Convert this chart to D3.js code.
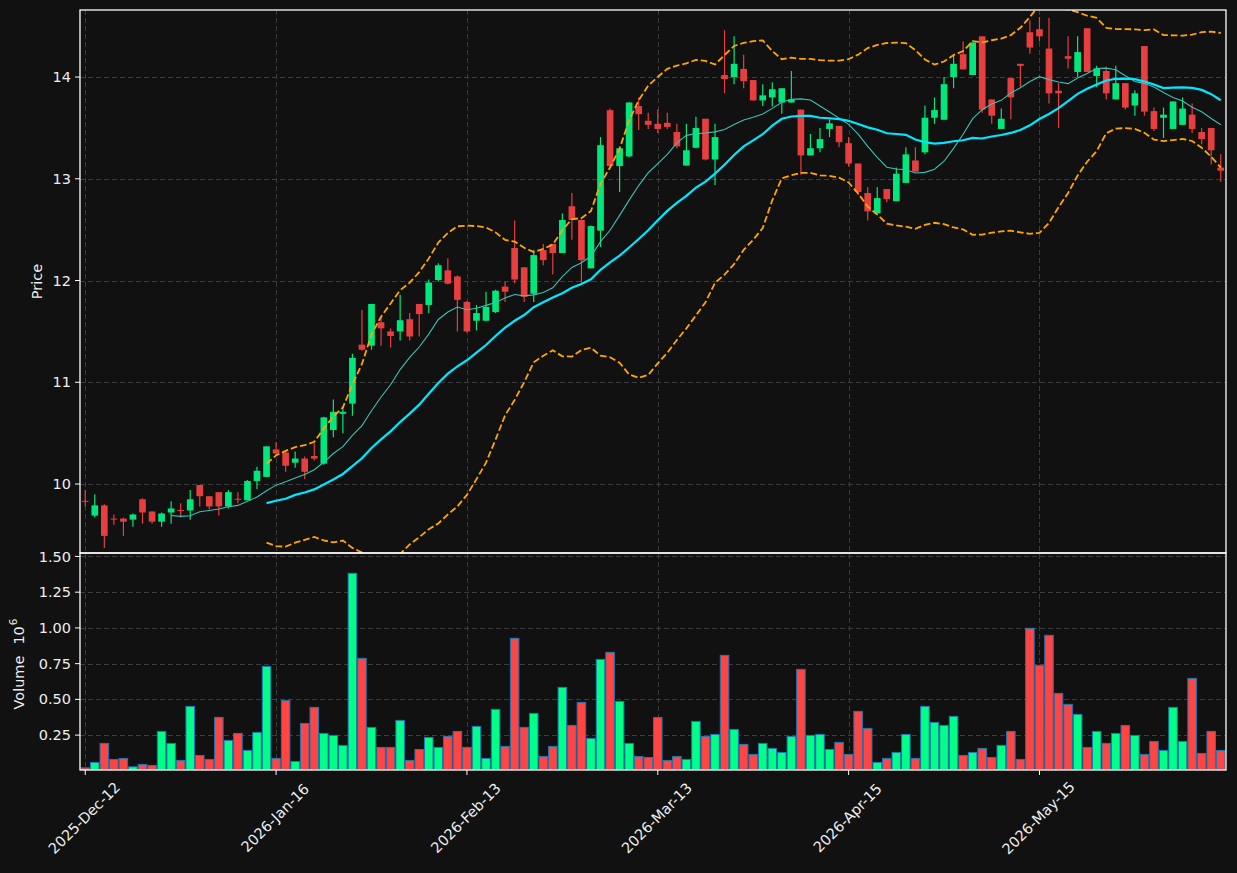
<!DOCTYPE html>
<html>
<head>
<meta charset="utf-8">
<script src="https://cdn.jsdelivr.net/npm/d3@7"></script>
<style>
  body { margin: 0; background: #111111; }
  svg { display: block; }
  text { font-family: "DejaVu Sans", sans-serif; fill: #eeeeee; }
</style>
</head>
<body>
<div id="chart"></div>
<script>
// daily OHLC, one entry per trading session (index 0..119)
const opens = [9.835,9.69,9.79,9.66,9.66,9.65,9.85,9.73,9.63,9.72,
  9.745,9.74,9.99,9.88,9.92,9.78,9.855,9.84,10.03,10.07,
  10.34,10.31,10.21,10.25,10.275,10.20,10.53,10.69,10.79,11.37,
  11.36,11.59,11.50,11.50,11.62,11.77,11.76,12.005,12.10,12.04,
  11.79,11.605,11.605,11.69,11.94,12.32,12.13,11.87,12.30,12.36,
  12.27,12.73,12.595,12.12,12.49,13.675,13.125,13.22,13.715,13.57,
  13.54,13.55,13.46,13.13,13.305,13.59,13.19,14.02,14.00,14.08,
  13.97,13.77,13.80,13.75,13.75,13.68,13.23,13.30,13.49,13.52,
  13.35,13.15,12.86,12.66,12.90,12.78,12.96,13.18,13.26,13.60,
  13.58,14.00,14.225,14.02,14.40,13.78,13.49,13.99,14.13,14.44,
  14.47,14.28,13.865,14.205,14.05,14.48,14.01,14.06,13.78,13.94,
  13.72,14.305,13.665,13.60,13.49,13.53,13.63,13.46,13.50,13.11];
const highs = [9.94,9.90,9.80,9.70,9.67,9.71,9.86,9.73,9.72,9.83,
  9.81,9.94,9.99,9.88,9.92,9.94,9.92,10.04,10.17,10.37,
  10.41,10.32,10.32,10.27,10.40,10.66,10.83,10.76,11.28,11.71,
  11.77,11.65,11.53,11.86,11.68,11.77,12.01,12.17,12.22,12.05,
  11.80,11.76,11.89,11.91,11.99,12.59,12.13,12.30,12.36,12.36,
  12.66,12.86,12.60,12.54,13.41,13.69,13.315,13.75,13.80,13.65,
  13.68,13.65,13.54,13.54,13.61,13.59,13.54,14.46,14.40,14.22,
  13.97,13.93,13.95,13.89,14.06,13.68,13.44,13.50,13.585,13.52,
  13.41,13.15,12.92,12.92,12.90,13.11,13.31,13.31,13.72,13.80,
  14.00,14.22,14.35,14.34,14.40,13.78,13.69,13.99,14.13,14.555,
  14.59,14.58,13.94,14.40,14.40,14.48,14.11,14.10,14.11,13.94,
  13.87,14.305,13.70,13.70,13.76,13.80,13.74,13.50,13.50,13.24];
const lows = [9.78,9.67,9.37,9.60,9.49,9.58,9.61,9.61,9.58,9.61,
  9.67,9.65,9.78,9.75,9.69,9.76,9.81,9.84,9.95,10.07,
  10.28,10.12,10.16,10.05,10.23,10.19,10.46,10.50,10.67,11.31,
  11.32,11.36,11.34,11.41,11.41,11.45,11.68,11.99,11.96,11.50,
  11.49,11.51,11.60,11.68,11.79,11.97,11.79,11.79,12.15,12.06,
  12.27,12.40,11.98,12.12,12.33,13.12,12.87,13.21,13.48,13.49,
  13.45,13.49,13.30,13.13,13.30,13.18,12.94,13.84,13.93,13.89,
  13.77,13.715,13.71,13.64,13.75,13.04,13.23,13.26,13.41,13.31,
  13.12,12.84,12.59,12.66,12.77,12.78,12.96,13.07,13.24,13.54,
  13.58,13.89,14.075,14.02,13.65,13.54,13.49,13.585,13.905,14.23,
  14.35,13.74,13.50,14.085,14.00,14.05,13.90,13.78,13.78,13.68,
  13.62,13.62,13.47,13.40,13.49,13.53,13.45,13.34,13.14,12.97];
const closes = [9.825,9.79,9.49,9.65,9.63,9.70,9.72,9.63,9.71,9.76,
  9.74,9.85,9.88,9.78,9.78,9.92,9.85,10.03,10.13,10.37,
  10.30,10.18,10.25,10.12,10.25,10.655,10.71,10.71,11.24,11.32,
  11.77,11.53,11.455,11.61,11.45,11.67,11.98,12.15,11.97,11.81,
  11.50,11.68,11.74,11.90,11.89,12.01,11.84,12.25,12.20,12.27,
  12.595,12.595,12.20,12.535,13.33,13.125,13.30,13.75,13.635,13.53,
  13.49,13.51,13.32,13.28,13.50,13.19,13.41,13.98,14.13,13.96,
  13.77,13.82,13.88,13.89,13.78,13.23,13.30,13.39,13.545,13.36,
  13.15,12.87,12.68,12.81,12.80,13.05,13.24,13.07,13.60,13.675,
  13.93,14.13,14.075,14.34,13.68,13.62,13.59,13.80,14.11,14.29,
  14.40,13.84,13.84,14.18,14.245,14.05,14.085,13.84,13.94,13.70,
  13.84,13.66,13.49,13.63,13.76,13.69,13.49,13.39,13.28,13.08];
// volume in millions (axis shows 10^6)
const volumes = [0.021,0.059,0.192,0.080,0.087,0.028,0.045,0.038,0.276,0.192,
  0.073,0.451,0.108,0.080,0.374,0.213,0.262,0.143,0.269,0.731,
  0.087,0.493,0.066,0.332,0.444,0.262,0.248,0.178,1.382,0.787,
  0.304,0.164,0.164,0.353,0.073,0.150,0.234,0.164,0.241,0.276,
  0.164,0.311,0.087,0.430,0.171,0.927,0.304,0.402,0.101,0.171,
  0.584,0.318,0.479,0.227,0.780,0.829,0.486,0.192,0.101,0.094,
  0.374,0.073,0.101,0.080,0.346,0.241,0.255,0.808,0.290,0.185,
  0.115,0.192,0.157,0.129,0.241,0.710,0.248,0.255,0.150,0.199,
  0.115,0.416,0.297,0.059,0.087,0.129,0.255,0.087,0.451,0.339,
  0.318,0.381,0.108,0.129,0.157,0.094,0.178,0.276,0.080,0.997,
  0.738,0.948,0.542,0.465,0.395,0.164,0.276,0.192,0.262,0.318,
  0.248,0.115,0.206,0.143,0.444,0.206,0.647,0.122,0.276,0.143];

const tickIdx = [0, 20, 40, 60, 80, 100];
const tickLabels = ["2025-Dec-12", "2026-Jan-16", "2026-Feb-13", "2026-Mar-13", "2026-Apr-15", "2026-May-15"];
const priceTicks = [10, 11, 12, 13, 14];
const volTicks = [0.25, 0.5, 0.75, 1.0, 1.25, 1.5];

const W = 1237, H = 873;
const pLeft = 80, pRight = 1226, pTop = 10, pMid = 553, pBottom = 770;
const upColor = "#00ff88", downColor = "#ff4444";

// rolling helpers for the moving averages / bands
function rolling(arr, n, fn) {
  return arr.map((d, i) => i < n - 1 ? null : fn(arr.slice(i - n + 1, i + 1)));
}
const ma10 = rolling(closes, 10, d3.mean);
const ma20 = rolling(closes, 20, d3.mean);
const sd20 = rolling(closes, 20, d3.deviation);
const bbUpper = ma20.map((m, i) => m == null ? null : m + 2 * sd20[i]);
const bbLower = ma20.map((m, i) => m == null ? null : m - 2 * sd20[i]);

const n = closes.length;
const x = d3.scaleLinear().domain([-0.55, n - 0.45]).range([pLeft, pRight]);
const y = d3.scaleLinear().domain([9.322, 14.659]).range([pMid, pTop]);
const yv = d3.scaleLinear().domain([0.006, 1.524]).range([pBottom, pMid]);
const step = x(1) - x(0);

const svg = d3.select("#chart").append("svg")
  .attr("width", W).attr("height", H)
  .style("background", "#111111");

const defs = svg.append("defs");
defs.append("clipPath").attr("id", "clipPrice")
  .append("rect").attr("x", pLeft).attr("y", pTop).attr("width", pRight - pLeft).attr("height", pMid - pTop);
defs.append("clipPath").attr("id", "clipVol")
  .append("rect").attr("x", pLeft).attr("y", pMid).attr("width", pRight - pLeft).attr("height", pBottom - pMid);

// grid
const grid = svg.append("g")
  .attr("stroke", "#3c3c3c").attr("stroke-width", 1).attr("stroke-dasharray", "5,3");
grid.selectAll(".gp").data(priceTicks).enter().append("line")
  .attr("x1", pLeft).attr("x2", pRight)
  .attr("y1", d => Math.round(y(d)) + 0.5).attr("y2", d => Math.round(y(d)) + 0.5);
grid.selectAll(".gv").data(volTicks).enter().append("line")
  .attr("x1", pLeft).attr("x2", pRight)
  .attr("y1", d => Math.round(yv(d)) + 0.5).attr("y2", d => Math.round(yv(d)) + 0.5);
grid.selectAll(".gx").data(tickIdx).enter().append("line")
  .attr("x1", d => Math.round(x(d)) + 0.5).attr("x2", d => Math.round(x(d)) + 0.5)
  .attr("y1", pTop).attr("y2", pBottom);

// price panel
const pricePanel = svg.append("g").attr("clip-path", "url(#clipPrice)");
const idx = d3.range(n);
const isUp = i => closes[i] >= opens[i];

const candle = pricePanel.selectAll(".candle").data(idx).enter().append("g")
  .attr("opacity", 0.9);
candle.append("line")
  .attr("x1", i => x(i)).attr("x2", i => x(i))
  .attr("y1", i => y(highs[i])).attr("y2", i => y(lows[i]))
  .attr("stroke", i => isUp(i) ? upColor : downColor).attr("stroke-width", 1.2);
candle.append("rect")
  .attr("x", i => x(i) - step * 0.35)
  .attr("width", step * 0.7)
  .attr("y", i => y(Math.max(opens[i], closes[i])))
  .attr("height", i => Math.max(1, Math.abs(y(opens[i]) - y(closes[i]))))
  .attr("fill", i => isUp(i) ? upColor : downColor);

function linePath(vals) {
  return d3.line()
    .defined(i => vals[i] != null)
    .x(i => x(i)).y(i => y(vals[i]))(idx);
}
pricePanel.append("path").attr("d", linePath(ma10))
  .attr("fill", "none").attr("stroke", "#3cbfb5").attr("stroke-width", 1.1);
pricePanel.append("path").attr("d", linePath(ma20))
  .attr("fill", "none").attr("stroke", "#00e8ff").attr("stroke-width", 2.2);
[bbUpper, bbLower].forEach(b => {
  pricePanel.append("path").attr("d", linePath(b))
    .attr("fill", "none").attr("stroke", "#ffa500").attr("stroke-width", 1.8)
    .attr("stroke-dasharray", "6.7,2.9");
});

// volume panel
const volPanel = svg.append("g").attr("clip-path", "url(#clipVol)");
volPanel.selectAll(".vbar").data(idx).enter().append("rect")
  .attr("x", i => x(i) - step / 2 + 0.5)
  .attr("width", step - 1)
  .attr("y", i => yv(volumes[i]))
  .attr("height", i => pBottom - yv(volumes[i]) + 2)
  .attr("fill", i => isUp(i) ? upColor : downColor)
  .attr("stroke", "#1f77b4").attr("stroke-width", 1);

// frames
const frame = svg.append("g").attr("fill", "none").attr("stroke", "#ffffff").attr("stroke-width", 1.3);
frame.append("rect").attr("x", pLeft).attr("y", pTop).attr("width", pRight - pLeft).attr("height", pMid - pTop);
frame.append("rect").attr("x", pLeft).attr("y", pMid).attr("width", pRight - pLeft).attr("height", pBottom - pMid);

// y ticks and labels
const ticks = svg.append("g").attr("stroke", "#ffffff").attr("stroke-width", 1);
ticks.selectAll(".tp").data(priceTicks).enter().append("line")
  .attr("x1", pLeft - 5).attr("x2", pLeft).attr("y1", d => y(d)).attr("y2", d => y(d));
ticks.selectAll(".tv").data(volTicks).enter().append("line")
  .attr("x1", pLeft - 5).attr("x2", pLeft).attr("y1", d => yv(d)).attr("y2", d => yv(d));
ticks.selectAll(".tx").data(tickIdx).enter().append("line")
  .attr("x1", d => x(d)).attr("x2", d => x(d)).attr("y1", pBottom).attr("y2", pBottom + 5);

svg.selectAll(".lp").data(priceTicks).enter().append("text")
  .attr("x", pLeft - 9).attr("y", d => y(d)).attr("dy", "0.35em")
  .attr("text-anchor", "end").attr("font-size", 14.5).text(d => d);
svg.selectAll(".lv").data(volTicks).enter().append("text")
  .attr("x", pLeft - 9).attr("y", d => yv(d)).attr("dy", "0.35em")
  .attr("text-anchor", "end").attr("font-size", 14.5).text(d => d3.format(".2f")(d));

svg.selectAll(".lx").data(tickIdx).enter().append("text")
  .attr("transform", (d, i) => "translate(" + (x(d) - 1) + "," + 818 + ") rotate(-45)")
  .attr("text-anchor", "middle").attr("dominant-baseline", "central")
  .attr("font-size", 14.5).text((d, i) => tickLabels[i]);

// axis titles
svg.append("text")
  .attr("transform", "translate(37," + ((pTop + pMid) / 2) + ") rotate(-90)")
  .attr("text-anchor", "middle").attr("dominant-baseline", "central")
  .attr("font-size", 14.5).text("Price");
const vt = svg.append("text")
  .attr("transform", "translate(19," + 664 + ") rotate(-90)")
  .attr("text-anchor", "middle").attr("dominant-baseline", "central")
  .attr("font-size", 14.5);
vt.append("tspan").text("Volume");
vt.append("tspan").attr("dx", 11).text("10");
vt.append("tspan").attr("font-size", 10.5).attr("dy", "-0.6em").attr("dx", 1).text("6");
</script>
</body>
</html>
